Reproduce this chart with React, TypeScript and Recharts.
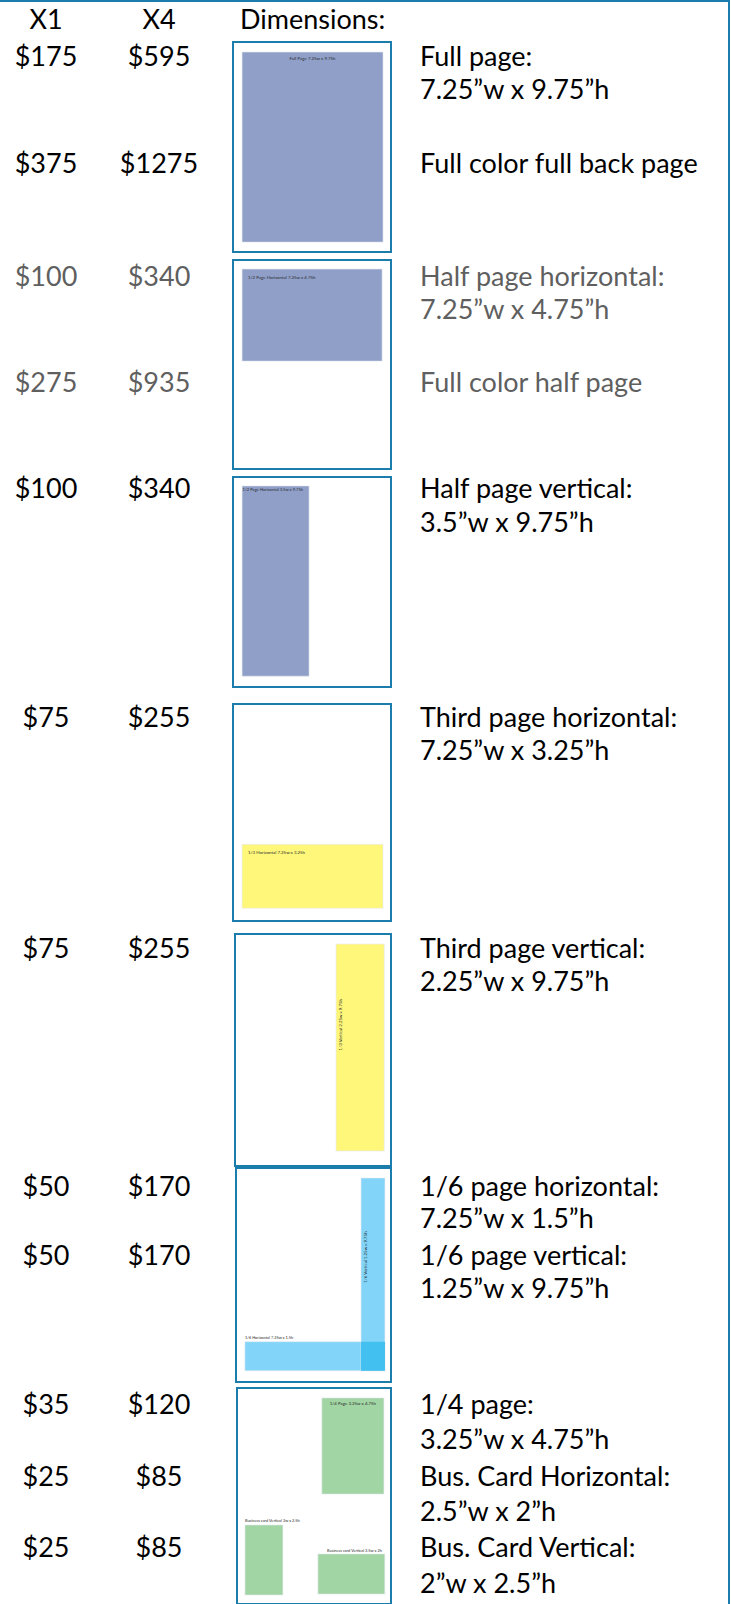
import React from 'react';
import { ComposedChart, XAxis, YAxis, ReferenceArea } from 'recharts';

// ---------- data ----------
const headers = ['X1', 'X4', 'Dimensions:'];
const x1Prices = ['$175', '$375', '$100', '$275', '$100', '$75', '$75', '$50', '$50', '$35', '$25', '$25'];
const x4Prices = ['$595', '$1275', '$340', '$935', '$340', '$255', '$255', '$170', '$170', '$120', '$85', '$85'];
const adNames = [
  'Full page:',
  'Full color full back page',
  'Half page horizontal:',
  'Full color half page',
  'Half page vertical:',
  'Third page horizontal:',
  'Third page vertical:',
  '1/6 page horizontal:',
  '1/6 page vertical:',
  '1/4 page:',
  'Bus. Card Horizontal:',
  'Bus. Card Vertical:',
];
const adSizes = [
  '7.25\u201Dw x 9.75\u201Dh',
  '',
  '7.25\u201Dw x 4.75\u201Dh',
  '',
  '3.5\u201Dw x 9.75\u201Dh',
  '7.25\u201Dw x 3.25\u201Dh',
  '2.25\u201Dw x 9.75\u201Dh',
  '7.25\u201Dw x 1.5\u201Dh',
  '1.25\u201Dw x 9.75\u201Dh',
  '3.25\u201Dw x 4.75\u201Dh',
  '2.5\u201Dw x 2\u201Dh',
  '2\u201Dw x 2.5\u201Dh',
];
const grayRows = [2, 3];

// page thumbnails: ad rectangles in page inches (8.5 x 11 page)
const PAGE_W = 8.5;
const PAGE_H = 11;
const thumb1Ads = [
  { x1: 0.44, x2: 8.12, y1: 0.48, y2: 10.53, fill: '#8f9fc8', label: 'Full Page 7.25w x 9.75h', mode: 'topCenter' },
];
const thumb2Ads = [
  { x1: 0.44, x2: 8.07, y1: 0.43, y2: 5.32, fill: '#8f9fc8', label: '1/2 Page Horizontal 7.25w x 4.75h', mode: 'topLeft' },
];
const thumb3Ads = [
  { x1: 0.44, x2: 4.09, y1: 0.42, y2: 10.48, fill: '#8f9fc8', label: '1/2 Page Horizontal 3.5w x 9.75h', mode: 'topTight' },
];
const thumb4Ads = [
  { x1: 0.44, x2: 8.12, y1: 7.13, y2: 10.4, fill: '#fff77a', label: '1/3 Horizontal 7.25w x 3.25h', mode: 'topLeft' },
];
const thumb5Ads = [
  { x1: 5.52, x2: 8.18, y1: 0.43, y2: 10.33, fill: '#fff77a', label: '1/3 Vertical 2.25w x 9.75h', mode: 'rotLeft', frac: 0.39 },
];
const thumb6Ads = [
  { x1: 0.44, x2: 8.22, y1: 8.96, y2: 10.47, fill: '#82d5f8', label: '1/6 Horizontal 7.25w x 1.5h', mode: 'aboveLeft' },
  { x1: 6.89, x2: 8.22, y1: 0.47, y2: 10.47, fill: '#82d5f8', label: '1/6 Vertical 1.25w x 9.75h', mode: 'rotLeft', frac: 0.41 },
];
const thumb7Ads = [
  { x1: 4.69, x2: 8.16, y1: 0.46, y2: 5.4, fill: '#a1d5a4', label: '1/4 Page 3.25w x 4.75h', mode: 'topCenter' },
  { x1: 0.39, x2: 2.51, y1: 6.99, y2: 10.59, fill: '#a1d5a4', label: 'Business card Vertical 2w x 2.5h', mode: 'aboveLeft' },
  { x1: 4.47, x2: 8.21, y1: 8.48, y2: 10.54, fill: '#a1d5a4', label: 'Business card Vertical 3.5w x 2h', mode: 'aboveRight' },
];
const overlapFill = '#42c1f1';

// ---------- layout ----------
const BLUE = '#1a7dab';
const FONT = 'Lato, "Noto Sans", sans-serif';
const priceRowY = [57, 164, 277, 383, 489, 718, 949, 1187, 1256, 1405, 1477, 1548];
const sizeRowY = [90, 0, 310, 0, 523, 751, 982, 1219, 1289, 1440, 1512, 1584];
const thumbBoxes = [
  { x: 232, y: 41, w: 160, h: 212, ads: thumb1Ads },
  { x: 232, y: 259, w: 160, h: 211, ads: thumb2Ads },
  { x: 232, y: 476, w: 160, h: 212, ads: thumb3Ads },
  { x: 232, y: 703, w: 160, h: 219, ads: thumb4Ads },
  { x: 234, y: 933, w: 158, h: 234, ads: thumb5Ads },
  { x: 235, y: 1167, w: 157, h: 216, ads: thumb6Ads, overlap: true },
  { x: 236, y: 1387, w: 156, h: 218, ads: thumb7Ads },
];

type VB = { x: number; y: number; width: number; height: number };

function MiniLabel(props: any) {
  const vb: VB = props.viewBox || { x: 0, y: 0, width: 0, height: 0 };
  const { text, mode, frac } = props;
  const common = { fontSize: 4.4, fill: '#2b2b2b', fontFamily: FONT } as any;
  if (mode === 'topCenter') {
    return <text x={vb.x + vb.width / 2} y={vb.y + 7.5} textAnchor="middle" {...common}>{text}</text>;
  }
  if (mode === 'topLeft') {
    return <text x={vb.x + 6} y={vb.y + 9.5} textAnchor="start" {...common}>{text}</text>;
  }
  if (mode === 'topTight') {
    return <text x={vb.x + 0.5} y={vb.y + 5.5} textAnchor="start" {...common} fontSize={4.1}>{text}</text>;
  }
  if (mode === 'aboveLeft') {
    return <text x={vb.x} y={vb.y - 2.5} textAnchor="start" {...common} fontSize={3.9}>{text}</text>;
  }
  if (mode === 'aboveRight') {
    return <text x={vb.x + vb.width - 3} y={vb.y - 2} textAnchor="end" {...common} fontSize={3.9}>{text}</text>;
  }
  // rotated, reading bottom to top, near left edge
  const cx = vb.x + 5.5;
  const cy = vb.y + vb.height * (frac ?? 0.4);
  return (
    <text x={cx} y={cy} textAnchor="middle" transform={`rotate(-90 ${cx} ${cy})`} {...common}>{text}</text>
  );
}

function Thumb({ box }: { box: any }) {
  const bw = 2;
  const innerW = box.w - bw * 2;
  const innerH = box.h - bw * 2;
  let inter: any = null;
  if (box.overlap && box.ads.length >= 2) {
    const a = box.ads[0];
    const b = box.ads[1];
    inter = {
      x1: Math.max(a.x1, b.x1),
      x2: Math.min(a.x2, b.x2),
      y1: Math.max(a.y1, b.y1),
      y2: Math.min(a.y2, b.y2),
    };
  }
  return (
    <div
      style={{
        position: 'absolute',
        left: box.x,
        top: box.y,
        width: box.w,
        height: box.h,
        border: `${bw}px solid ${BLUE}`,
        boxSizing: 'border-box',
        background: '#ffffff',
      }}
    >
      <ComposedChart width={innerW} height={innerH} margin={{ top: 0, right: 0, bottom: 0, left: 0 }} data={[]}>
        <XAxis type="number" dataKey="x" domain={[0, PAGE_W]} hide allowDataOverflow />
        <YAxis type="number" dataKey="y" domain={[0, PAGE_H]} reversed hide allowDataOverflow />
        {box.ads.map((a: any, i: number) => (
          <ReferenceArea
            key={i}
            x1={a.x1}
            x2={a.x2}
            y1={a.y1}
            y2={a.y2}
            fill={a.fill}
            fillOpacity={1}
            stroke="#e4e8f0"
            strokeWidth={0.6}
            ifOverflow="visible"
            label={<MiniLabel text={a.label} mode={a.mode} frac={a.frac} />}
          />
        ))}
        {inter && (
          <ReferenceArea
            x1={inter.x1}
            x2={inter.x2}
            y1={inter.y1}
            y2={inter.y2}
            fill={overlapFill}
            fillOpacity={1}
            stroke="none"
            ifOverflow="visible"
          />
        )}
      </ComposedChart>
    </div>
  );
}

function Line({ x, y, w, align, text, color }: any) {
  return (
    <div
      style={{
        position: 'absolute',
        left: x,
        top: y - 17,
        width: w,
        height: 32,
        lineHeight: '32px',
        fontSize: 27,
        fontFamily: FONT,
        color,
        textAlign: align,
        whiteSpace: 'nowrap',
      }}
    >
      {text}
    </div>
  );
}

export default function App() {
  return (
    <div
      style={{
        position: 'absolute',
        left: 0,
        top: 0,
        width: 731,
        height: 1604,
        overflow: 'hidden',
        background: '#ffffff',
      }}
    >
      {/* outer frame */}
      <div
        style={{
          position: 'absolute',
          left: -4,
          top: 0,
          width: 734,
          height: 1620,
          borderTop: `2px solid ${BLUE}`,
          borderRight: `2px solid ${BLUE}`,
          boxSizing: 'border-box',
        }}
      />
      <Line x={0} y={20} w={92} align="center" text={headers[0]} color="#000" />
      <Line x={109} y={20} w={100} align="center" text={headers[1]} color="#000" />
      <Line x={240} y={20} w={200} align="left" text={headers[2]} color="#000" />
      {x1Prices.map((p, i) => {
        const color = grayRows.includes(i) ? '#5f5f5f' : '#000';
        return (
          <React.Fragment key={i}>
            <Line x={0} y={priceRowY[i]} w={92} align="center" text={p} color={color} />
            <Line x={109} y={priceRowY[i]} w={100} align="center" text={x4Prices[i]} color={color} />
            <Line x={420} y={priceRowY[i]} w={300} align="left" text={adNames[i]} color={color} />
            {adSizes[i] && (
              <Line x={420} y={sizeRowY[i]} w={300} align="left" text={adSizes[i]} color={color} />
            )}
          </React.Fragment>
        );
      })}
      {thumbBoxes.map((b, i) => (
        <Thumb key={i} box={b} />
      ))}
    </div>
  );
}
